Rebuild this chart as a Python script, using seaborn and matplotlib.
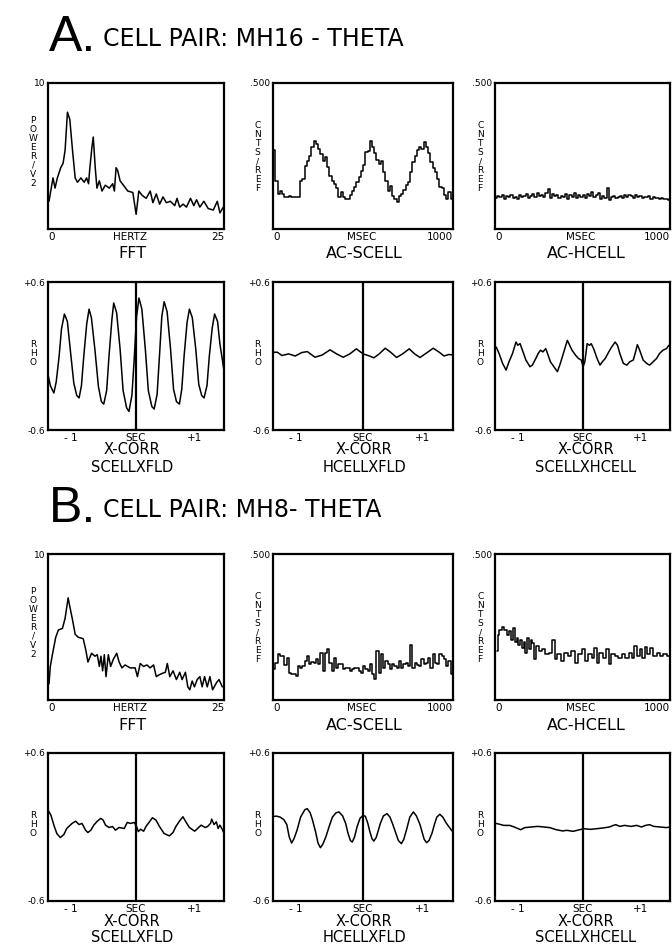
import numpy as np
import pandas as pd
import seaborn as sns
import matplotlib.pyplot as plt

# ---- values ----
# A: cell pair MH16
fft_a_hz = [0.14, 0.71, 1.00, 1.33, 1.81, 2.14, 2.43, 2.76, 3.10, 3.48,
            3.86, 4.19, 4.67, 5.14, 5.48, 5.76, 5.95, 6.24, 6.43, 6.71,
            6.95, 7.29, 7.67, 8.14, 8.71, 9.19, 9.43, 9.67, 9.90, 10.24,
            10.71, 11.33, 12.05, 12.52, 12.90, 13.38, 13.95, 14.52, 14.90, 15.38,
            15.86, 16.33, 16.81, 17.38, 18.00, 18.33, 18.71, 19.19, 19.67, 20.24,
            20.71, 21.10, 21.57, 22.14, 22.76, 23.48, 24.05, 24.43, 24.90]
fft_a_pow = [1.9, 3.5, 2.8, 3.5, 4.2, 4.5, 5.4, 8.0, 7.5, 5.4,
             3.5, 3.2, 3.5, 3.2, 3.5, 3.1, 4.2, 5.6, 6.3, 4.2,
             2.8, 3.3, 2.6, 3.0, 2.8, 3.1, 2.6, 4.2, 4.0, 3.3,
             3.0, 2.6, 2.5, 1.0, 2.6, 2.3, 2.1, 2.6, 1.8, 2.4,
             1.7, 2.2, 1.8, 1.9, 1.6, 2.1, 1.5, 1.7, 1.5, 2.1,
             1.6, 2.0, 1.5, 1.9, 1.4, 1.3, 1.9, 1.1, 1.5]

ac_scell_a = [0.27, 0.165, 0.12, 0.131, 0.12, 0.108, 0.111, 0.114, 0.108, 0.11,
              0.108, 0.108, 0.166, 0.171, 0.217, 0.234, 0.25, 0.28, 0.303, 0.29,
              0.274, 0.257, 0.234, 0.245, 0.211, 0.18, 0.165, 0.155, 0.14, 0.108,
              0.126, 0.11, 0.103, 0.103, 0.115, 0.13, 0.143, 0.16, 0.177, 0.2,
              0.22, 0.263, 0.268, 0.303, 0.28, 0.26, 0.235, 0.223, 0.234, 0.194,
              0.166, 0.131, 0.148, 0.114, 0.103, 0.091, 0.114, 0.12, 0.135, 0.15,
              0.16, 0.194, 0.228, 0.25, 0.27, 0.28, 0.274, 0.297, 0.28, 0.26,
              0.23, 0.21, 0.194, 0.171, 0.143, 0.14, 0.115, 0.103, 0.126, 0.103]

ac_hcell_a = [0.105, 0.112, 0.108, 0.115, 0.104, 0.113, 0.109, 0.117, 0.106, 0.111,
              0.104, 0.116, 0.108, 0.113, 0.119, 0.107, 0.114, 0.121, 0.110, 0.125,
              0.112, 0.118, 0.109, 0.123, 0.138, 0.106, 0.120, 0.112, 0.117, 0.105,
              0.113, 0.108, 0.119, 0.104, 0.116, 0.111, 0.122, 0.107, 0.115, 0.110,
              0.118, 0.106, 0.121, 0.113, 0.126, 0.109, 0.117, 0.124, 0.104, 0.112,
              0.106, 0.142, 0.098, 0.111, 0.114, 0.107, 0.110, 0.113, 0.106, 0.118,
              0.109, 0.115, 0.112, 0.105, 0.117, 0.110, 0.114, 0.106, 0.111, 0.108,
              0.113, 0.104, 0.110, 0.107, 0.105, 0.103, 0.106, 0.102, 0.104, 0.101]

xc_sf_a_lag = [-1.50, -1.46, -1.40, -1.36, -1.31, -1.27, -1.22, -1.17, -1.12, -1.06,
               -1.01, -0.97, -0.93, -0.89, -0.84, -0.80, -0.76, -0.70, -0.64, -0.59,
               -0.55, -0.50, -0.46, -0.41, -0.38, -0.33, -0.27, -0.22, -0.16, -0.12,
               -0.07, -0.03, 0.01, 0.05, 0.10, 0.16, 0.21, 0.27, 0.31, 0.36,
               0.40, 0.44, 0.48, 0.53, 0.59, 0.64, 0.69, 0.74, 0.78, 0.82,
               0.87, 0.91, 0.96, 1.02, 1.07, 1.12, 1.16, 1.21, 1.25, 1.30,
               1.34, 1.39, 1.43, 1.50]
xc_sf_a_rho = [-0.15, -0.24, -0.30, -0.21, 0.0, 0.22, 0.34, 0.28, 0.05, -0.22,
               -0.32, -0.34, -0.24, 0.0, 0.26, 0.38, 0.31, 0.05, -0.25, -0.37,
               -0.39, -0.28, 0.0, 0.30, 0.43, 0.35, 0.05, -0.28, -0.42, -0.45,
               -0.32, -0.02, 0.32, 0.47, 0.38, 0.05, -0.28, -0.41, -0.43, -0.31,
               0.0, 0.32, 0.44, 0.36, 0.05, -0.27, -0.37, -0.39, -0.27, 0.0,
               0.27, 0.38, 0.31, 0.05, -0.23, -0.32, -0.34, -0.24, 0.0, 0.23,
               0.34, 0.28, 0.10, -0.12]

xc_hf_a_lag = [-1.50, -1.43, -1.35, -1.24, -1.13, -1.02, -0.93, -0.80, -0.68, -0.55,
               -0.44, -0.33, -0.22, -0.11, 0.0, 0.11, 0.18, 0.27, 0.37, 0.46,
               0.56, 0.66, 0.77, 0.86, 0.95, 1.06, 1.17, 1.27, 1.35, 1.43, 1.50]
xc_hf_a_rho = [0.03, 0.031, 0.004, 0.017, 0.0, 0.028, 0.036, -0.01, 0.008, 0.05,
               0.017, -0.01, 0.017, 0.058, 0.017, 0.0, -0.015, 0.017, 0.063, 0.031,
               -0.012, 0.017, 0.058, 0.017, -0.012, 0.025, 0.063, 0.031, 0.0, 0.012, 0.009]

xc_sh_a_lag = [-1.48, -1.43, -1.37, -1.31, -1.26, -1.20, -1.14, -1.11, -1.07, -1.03,
               -0.97, -0.90, -0.86, -0.80, -0.76, -0.72, -0.68, -0.63, -0.59, -0.55,
               -0.49, -0.43, -0.38, -0.32, -0.26, -0.22, -0.18, -0.12, -0.07, -0.02,
               0.01, 0.04, 0.08, 0.12, 0.15, 0.19, 0.25, 0.30, 0.34, 0.39,
               0.45, 0.50, 0.56, 0.60, 0.64, 0.70, 0.76, 0.81, 0.87, 0.91,
               0.94, 0.98, 1.04, 1.10, 1.15, 1.21, 1.27, 1.32, 1.38, 1.44,
               1.48, 1.50]
xc_sh_a_rho = [0.073, 0.02, -0.06, -0.114, -0.047, 0.02, 0.113, 0.087, 0.1, 0.047,
               -0.033, -0.087, -0.074, -0.02, 0.02, 0.047, 0.033, 0.06, 0.007, -0.047,
               -0.087, -0.127, -0.06, 0.033, 0.127, 0.087, 0.047, 0.007, -0.02, -0.033,
               -0.087, -0.047, 0.1, 0.087, 0.1, 0.06, -0.02, -0.074, -0.047, -0.02,
               0.033, 0.073, 0.113, 0.087, 0.02, -0.06, -0.074, -0.047, -0.033, 0.033,
               0.092, 0.047, -0.033, -0.06, -0.074, -0.047, -0.02, 0.02, 0.047, 0.06,
               0.087, 0.073]

# B: cell pair MH8
fft_b_hz = [0.14, 0.33, 0.62, 1.1, 1.48, 2.05, 2.43, 2.86, 3.1, 3.48,
            3.86, 4.29, 5.0, 5.38, 5.67, 6.19, 6.67, 7.0, 7.29, 7.52,
            7.76, 8.0, 8.24, 8.57, 8.9, 9.29, 9.76, 10.1, 10.5, 10.95,
            11.67, 12.38, 12.7, 13.1, 13.57, 14.05, 14.5, 15.0, 15.38, 15.7,
            16.1, 16.67, 16.95, 17.3, 17.76, 18.24, 18.71, 19.05, 19.52, 19.86,
            20.14, 20.48, 20.8, 21.19, 21.57, 21.9, 22.24, 22.62, 23.0, 23.38,
            23.95, 24.29, 24.76]
fft_b_pow = [1.1, 2.3, 3.1, 4.3, 4.8, 4.9, 5.6, 7.0, 6.4, 5.5,
             4.5, 4.3, 4.2, 3.4, 2.6, 3.2, 3.0, 3.1, 2.3, 3.0,
             2.0, 3.1, 1.6, 3.1, 2.3, 2.8, 3.2, 2.6, 2.2, 2.4,
             2.2, 2.2, 1.6, 2.5, 2.3, 2.4, 2.2, 2.4, 1.6, 1.7,
             1.8, 1.9, 2.5, 1.6, 2.0, 1.4, 1.9, 1.4, 1.9, 0.9,
             0.7, 1.3, 0.9, 1.4, 1.6, 0.9, 1.6, 0.9, 1.6, 0.7,
             1.2, 1.4, 0.9]

ac_scell_b = [0.105, 0.128, 0.156, 0.15, 0.15, 0.119, 0.145, 0.094, 0.088, 0.09,
              0.082, 0.116, 0.111, 0.118, 0.133, 0.15, 0.122, 0.13, 0.128, 0.14,
              0.122, 0.161, 0.099, 0.161, 0.173, 0.128, 0.099, 0.145, 0.111, 0.122,
              0.122, 0.105, 0.108, 0.111, 0.099, 0.105, 0.108, 0.111, 0.1, 0.094,
              0.116, 0.105, 0.099, 0.122, 0.088, 0.071, 0.167, 0.094, 0.156, 0.111,
              0.133, 0.122, 0.105, 0.122, 0.116, 0.111, 0.133, 0.111, 0.122, 0.128,
              0.116, 0.19, 0.111, 0.128, 0.119, 0.116, 0.139, 0.122, 0.128, 0.145,
              0.111, 0.156, 0.128, 0.122, 0.156, 0.15, 0.139, 0.116, 0.133, 0.088]

ac_hcell_b_ms = [10, 20, 30, 46, 60, 73, 85, 99, 109, 119,
                 129, 139, 149, 159, 169, 179, 188, 198, 208, 218,
                 228, 244, 258, 278, 298, 317, 337, 347, 367, 387,
                 407, 427, 446, 466, 486, 506, 522, 542, 561, 575,
                 589, 605, 625, 645, 655, 675, 694, 714, 734, 754,
                 774, 788, 804, 819, 833, 847, 863, 879, 893, 913,
                 933, 952, 972, 995]
ac_hcell_b = [0.167, 0.224, 0.24, 0.25, 0.24, 0.224, 0.235, 0.207, 0.246, 0.2,
              0.212, 0.19, 0.207, 0.178, 0.2, 0.161, 0.212, 0.173, 0.207, 0.195,
              0.139, 0.184, 0.167, 0.173, 0.156, 0.161, 0.207, 0.139, 0.156, 0.133,
              0.161, 0.15, 0.167, 0.128, 0.156, 0.173, 0.133, 0.156, 0.145, 0.178,
              0.128, 0.161, 0.145, 0.173, 0.125, 0.156, 0.15, 0.145, 0.156, 0.145,
              0.161, 0.145, 0.184, 0.15, 0.173, 0.145, 0.182, 0.156, 0.178, 0.15,
              0.161, 0.15, 0.156, 0.15]

xc_sf_b_lag = [-1.49, -1.45, -1.40, -1.35, -1.29, -1.23, -1.18, -1.09, -1.03, -0.97,
               -0.92, -0.86, -0.82, -0.77, -0.72, -0.66, -0.60, -0.56, -0.52, -0.46,
               -0.40, -0.35, -0.29, -0.20, -0.15, -0.09, -0.03, 0.01, 0.04, 0.08,
               0.13, 0.17, 0.23, 0.28, 0.34, 0.40, 0.48, 0.57, 0.63, 0.68,
               0.74, 0.80, 0.85, 0.91, 1.00, 1.05, 1.11, 1.18, 1.22, 1.27,
               1.29, 1.33, 1.37, 1.40, 1.43, 1.47, 1.50]
xc_sf_b_rho = [0.129, 0.096, 0.015, -0.053, -0.086, -0.061, -0.012, 0.029, 0.047, 0.02,
               0.029, -0.026, -0.045, -0.026, 0.015, 0.047, 0.07, 0.056, 0.015, -0.004,
               0.004, -0.026, -0.004, -0.012, 0.037, 0.029, 0.037, 0.004, -0.037, -0.018,
               -0.034, 0.004, 0.042, 0.075, 0.056, 0.004, -0.053, -0.072, -0.045, 0.004,
               0.047, 0.083, 0.042, -0.004, -0.034, -0.012, 0.015, -0.004, 0.004, 0.029,
               0.064, 0.02, 0.042, -0.012, 0.015, -0.018, -0.053]

xc_hf_b_lag = [-1.50, -1.44, -1.38, -1.32, -1.27, -1.23, -1.19, -1.15, -1.10, -1.04,
               -0.97, -0.93, -0.88, -0.84, -0.79, -0.75, -0.71, -0.67, -0.62, -0.56,
               -0.51, -0.45, -0.40, -0.34, -0.29, -0.25, -0.21, -0.18, -0.14, -0.10,
               -0.05, 0.0, 0.04, 0.08, 0.11, 0.15, 0.18, 0.22, 0.26, 0.29,
               0.34, 0.40, 0.45, 0.49, 0.54, 0.59, 0.64, 0.68, 0.73, 0.78,
               0.84, 0.89, 0.95, 0.99, 1.02, 1.06, 1.10, 1.15, 1.19, 1.23,
               1.28, 1.33, 1.39, 1.45, 1.50]
xc_hf_b_rho = [0.086, 0.088, 0.080, 0.060, 0.020, -0.080, -0.130, -0.095, -0.027, 0.080,
               0.140, 0.149, 0.115, 0.054, -0.040, -0.130, -0.168, -0.140, -0.081, 0.010,
               0.080, 0.115, 0.122, 0.090, 0.030, -0.050, -0.110, -0.122, -0.080, 0.0,
               0.070, 0.095, 0.086, 0.030, -0.030, -0.095, -0.114, -0.085, -0.020, 0.030,
               0.090, 0.108, 0.080, 0.030, -0.040, -0.110, -0.135, -0.100, -0.014, 0.080,
               0.122, 0.090, 0.020, -0.050, -0.100, -0.127, -0.110, -0.050, 0.020, 0.080,
               0.103, 0.080, 0.030, -0.010, -0.041]

xc_sh_b_lag = [-1.50, -1.46, -1.35, -1.25, -1.17, -1.06, -0.99, -0.88, -0.77, -0.66,
               -0.56, -0.45, -0.34, -0.27, -0.16, -0.05, 0.03, 0.13, 0.24, 0.35,
               0.46, 0.53, 0.57, 0.64, 0.72, 0.83, 0.93, 1.01, 1.08, 1.15,
               1.22, 1.33, 1.44, 1.50]
xc_sh_b_rho = [0.03, 0.027, 0.013, 0.013, 0.0, -0.022, -0.005, 0.0, 0.005, 0.0,
               -0.005, -0.022, -0.032, -0.027, -0.035, -0.022, -0.014, -0.019, -0.014, -0.008,
               0.0, 0.013, 0.019, 0.005, 0.013, 0.005, 0.013, 0.0, 0.013, 0.019,
               0.005, 0.0, -0.005, 0.0]


sns.set_theme(style="white")
plt.rcParams['font.family'] = ['DejaVu Sans']
plt.rcParams.update({'text.color': 'black', 'axes.labelcolor': 'black',
                     'xtick.color': 'black', 'ytick.color': 'black'})

W, H = 672, 948
fig = plt.figure(figsize=(W / 100, H / 100), dpi=100)
fig.patch.set_facecolor('white')

COLS = [(48, 224), (273, 453), (495, 670)]
CENTERS = [132, 364, 586]


def panel(l, t, r, b):
    ax = fig.add_axes([l / W, 1 - b / H, (r - l) / W, (b - t) / H])
    for s in ax.spines.values():
        s.set_color('black')
        s.set_linewidth(1.6)
    ax.tick_params(length=0, labelsize=6.5, pad=2, colors='black')
    return ax


def trace(ax, x, y, steps=False):
    df = pd.DataFrame({'x': x, 'y': y})
    sns.lineplot(data=df, x='x', y='y', ax=ax, color='black', lw=1.1,
                 estimator=None, sort=False,
                 drawstyle='steps-mid' if steps else 'default')


def xticks(ax, pos, labels, aligns):
    ax.set_xticks(pos, labels)
    for lbl, ha in zip(ax.get_xticklabels(), aligns):
        lbl.set_ha(ha)
        lbl.set_fontsize(7.5)


def stacked_ylabel(ax, word, x, y):
    ax.set_ylabel('\n'.join(word), rotation=0, fontsize=6.5, linespacing=1.0,
                  ha='center', va='center')
    ax.yaxis.set_label_coords(x, y)


def fft_panel(ax, hz, pw):
    trace(ax, hz, pw)
    ax.set_xlim(0, 25)
    ax.set_ylim(0, 10)
    ax.set_yticks([10], ['10'])
    xticks(ax, [0, 11.6, 25], ['0', 'HERTZ', '25'], ['left', 'center', 'right'])
    ax.set_xlabel('')
    stacked_ylabel(ax, 'POWER/V2', -0.085, 0.53)


def ac_panel(ax, vals, ms=None):
    if ms is None:
        edges = np.linspace(0, 1000, len(vals) + 1)
        ms = (edges[:-1] + edges[1:]) / 2
    trace(ax, ms, vals, steps=True)
    ax.set_xlim(0, 1000)
    ax.set_ylim(0, 0.5)
    ax.set_yticks([0.5], ['.500'])
    xticks(ax, [0, 490, 1000], ['0', 'MSEC', '1000'], ['left', 'center', 'right'])
    ax.set_xlabel('')
    stacked_ylabel(ax, 'CNTS/REF', -0.085, 0.49)


def xc_panel(ax, lag, rho):
    trace(ax, lag, rho)
    ax.axvline(0, color='black', lw=1.6)
    ax.set_xlim(-1.5, 1.5)
    ax.set_ylim(-0.6, 0.6)
    ax.set_yticks([-0.6, 0.6], ['-0.6', '+0.6'])
    xticks(ax, [-1, 0, 1], ['- 1', 'SEC', '+1'], ['right', 'center', 'center'])
    ax.set_xlabel('')
    stacked_ylabel(ax, 'RHO', -0.085, 0.52)


def row_labels(y, names, step=17, size=11.5):
    for cx, name in zip(CENTERS, names):
        for k, line in enumerate(name):
            fig.text(cx / W, 1 - (y + step * k) / H, line, ha='center', va='center',
                     fontsize=size)


def block(letter, title, y_title, y_top, spec_data, xc_data):
    fig.text(49 / W, 1 - y_title / H, letter, fontsize=36, va='baseline',
             family=['Liberation Sans Narrow', 'Liberation Sans', 'DejaVu Sans'])
    fig.text(103 / W, 1 - (y_title - 5) / H, title, fontsize=17, va='baseline')

    t1, b1 = y_top, y_top + 146
    ax = panel(COLS[0][0], t1, COLS[0][1], b1)
    fft_panel(ax, *spec_data[0])
    ax = panel(COLS[1][0], t1, COLS[1][1], b1)
    ac_panel(ax, *spec_data[1])
    ax = panel(COLS[2][0], t1, COLS[2][1], b1)
    ac_panel(ax, *spec_data[2])
    row_labels(b1 + 25, [['FFT'], ['AC-SCELL'], ['AC-HCELL']])

    t2, b2 = b1 + 53, b1 + 53 + 148
    names = ['SCELLXFLD', 'HCELLXFLD', 'SCELLXHCELL']
    for (l, r), (lag, rho) in zip(COLS, xc_data):
        ax = panel(l, t2, r, b2)
        xc_panel(ax, lag, rho)
    row_labels(b2 + 20, [['X-CORR', n] for n in names], step=17, size=10.5)


block('A.', 'CELL PAIR: MH16 - THETA', 51, 83,
      [(fft_a_hz, fft_a_pow), (ac_scell_a,), (ac_hcell_a,)],
      [(xc_sf_a_lag, xc_sf_a_rho), (xc_hf_a_lag, xc_hf_a_rho), (xc_sh_a_lag, xc_sh_a_rho)])
block('B.', 'CELL PAIR: MH8- THETA', 522, 554,
      [(fft_b_hz, fft_b_pow), (ac_scell_b,), (ac_hcell_b, ac_hcell_b_ms)],
      [(xc_sf_b_lag, xc_sf_b_rho), (xc_hf_b_lag, xc_hf_b_rho), (xc_sh_b_lag, xc_sh_b_rho)])

fig.savefig('out.png', dpi=100, facecolor='white')
